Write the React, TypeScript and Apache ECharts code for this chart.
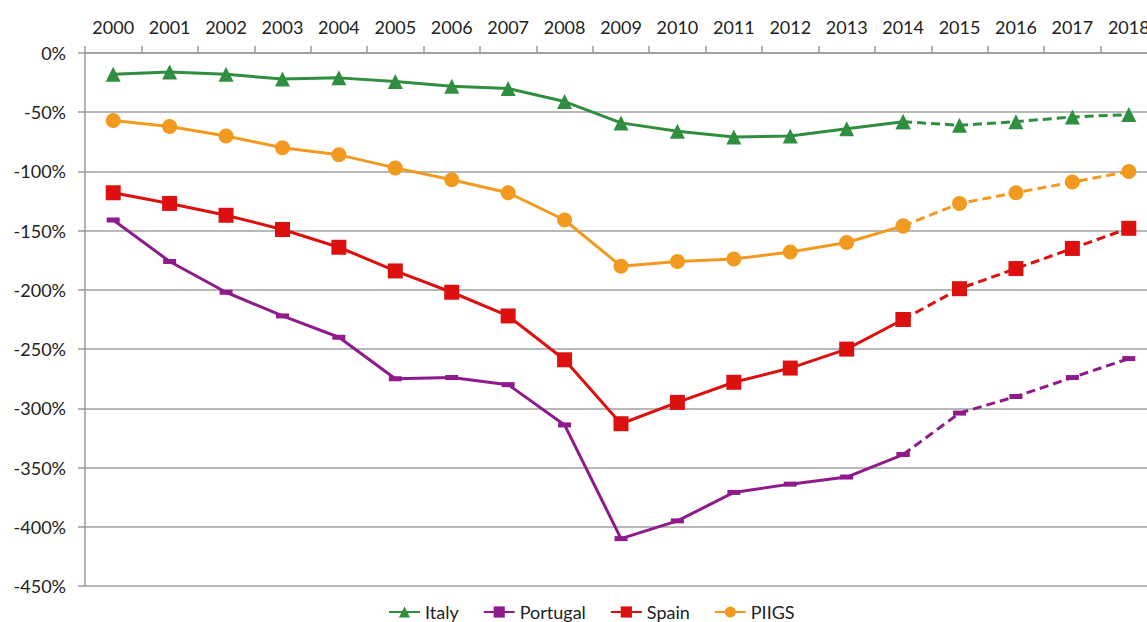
import React, { useEffect, useRef } from "react";
import * as echarts from "echarts";

const years = ["2000","2001","2002","2003","2004","2005","2006","2007","2008","2009","2010","2011","2012","2013","2014","2015","2016","2017","2018"];
const italy = [-18, -16, -18, -22, -21, -24, -28, -30, -41, -59, -66, -71, -70, -64, -58, -61, -58, -54, -52];
const portugal = [-141, -176, -202, -222, -240, -275, -274, -280, -314, -410, -395, -371, -364, -358, -339, -304, -290, -274, -258];
const spain = [-118, -127, -137, -149, -164, -184, -202, -222, -259, -313, -295, -278, -266, -250, -225, -199, -182, -165, -148];
const piigs = [-57, -62, -70, -80, -86, -97, -107, -118, -141, -180, -176, -174, -168, -160, -146, -127, -118, -109, -100];
const splitIndex = 14; // 2014: actual data ends, dashed projection begins
const yTicks = { min: -450, max: 0, interval: 50 };

const FONT = "Lato";

type Spec = { name: string; data: number[]; color: string; symbol: string; symbolSize: number | number[] };

const specs: Spec[] = [
  { name: "Italy", data: italy, color: "#2F8F3E", symbol: "triangle", symbolSize: 15 },
  { name: "Portugal", data: portugal, color: "#8E1A8B", symbol: "rect", symbolSize: [13, 5] },
  { name: "Spain", data: spain, color: "#DD1010", symbol: "rect", symbolSize: 15 },
  { name: "PIIGS", data: piigs, color: "#F29A1F", symbol: "circle", symbolSize: 15 },
];

export default function App() {
  const ref = useRef<HTMLDivElement>(null);
  useEffect(() => {
    if (!ref.current) return;
    const chart = echarts.init(ref.current, undefined, { renderer: "svg" });
    const series: any[] = [];
    specs.forEach((s) => {
      series.push({
        name: s.name,
        type: "line",
        data: s.data.map((v, i) => (i <= splitIndex ? v : null)),
        symbol: s.symbol,
        symbolSize: s.symbolSize,
        itemStyle: { color: s.color },
        lineStyle: { color: s.color, width: 3 },
        z: 3,
      });
      series.push({
        name: s.name + " (proj)",
        type: "line",
        data: s.data.map((v, i) => (i >= splitIndex ? v : null)),
        symbol: s.symbol,
        symbolSize: s.symbolSize,
        itemStyle: { color: s.color },
        lineStyle: { color: s.color, width: 3, type: [9, 5] },
        z: 3,
      });
    });
    chart.setOption({
      animation: false,
      backgroundColor: "#ffffff",
      textStyle: { fontFamily: FONT },
      grid: { left: 85, top: 53, bottom: 36, right: 3 },
      legend: {
        data: specs.map((s) => s.name),
        left: 383,
        top: 598,
        itemWidth: 31,
        itemHeight: 14,
        itemGap: 24,
        textStyle: { fontFamily: FONT, fontSize: 18, color: "#222" },
      },
      xAxis: {
        type: "category",
        position: "top",
        data: years,
        boundaryGap: true,
        axisLine: { show: true, lineStyle: { color: "#9a9a9a", width: 1.5 } },
        axisTick: { show: true, interval: 0, length: 7, lineStyle: { color: "#9a9a9a", width: 1.5 } },
        axisLabel: { interval: 0, fontFamily: FONT, fontSize: 18, color: "#222", margin: 17 },
        splitLine: { show: false },
      },
      yAxis: {
        type: "value",
        min: yTicks.min,
        max: yTicks.max,
        interval: yTicks.interval,
        axisLine: { show: true, lineStyle: { color: "#9a9a9a", width: 1.5 } },
        axisTick: { show: true, length: 7, lineStyle: { color: "#9a9a9a", width: 1.5 } },
        axisLabel: { fontFamily: FONT, fontSize: 18, color: "#222", margin: 19, formatter: (v: number) => `${v}%` },
        splitLine: { show: true, lineStyle: { color: "#a0a0a0", width: 1.5 } },
      },
      series,
    });
    return () => chart.dispose();
  }, []);
  return (
    <div style={{ position: "fixed", left: 0, top: 0, width: 1147, height: 622, overflow: "hidden", background: "#fff" }}>
      <div ref={ref} style={{ position: "absolute", left: 0, top: 0, width: 1160, height: 622 }} />
    </div>
  );
}
